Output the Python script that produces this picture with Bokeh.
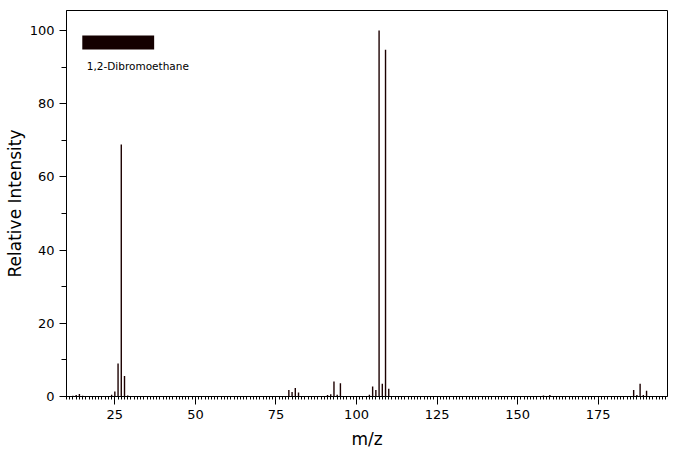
from bokeh.plotting import figure
from bokeh.models import Range1d, FixedTicker, LinearAxis, BoxAnnotation, Label
from bokeh.embed import file_html
from bokeh.resources import INLINE

# ---- data ----
mz = [12, 13, 14, 15, 24, 25, 26, 27, 28, 29,
      79, 80, 81, 82, 91, 92, 93, 94, 95,
      104, 105, 106, 107, 108, 109, 110,
      158, 160, 186, 187, 188, 189, 190]
intensity = [0.2, 0.4, 0.7, 0.2, 0.5, 1.4, 9.0, 68.9, 5.6, 0.3,
             1.8, 1.2, 2.3, 1.1, 0.4, 0.6, 4.1, 0.5, 3.6,
             0.5, 2.7, 1.8, 100.0, 3.5, 94.8, 2.1,
             0.3, 0.4, 1.8, 0.4, 3.5, 0.4, 1.6]
x_major = [25, 50, 75, 100, 125, 150, 175]
y_major = [0, 20, 40, 60, 80, 100]
y_minor = [10, 30, 50, 70, 90]
compound = "1,2-Dibromoethane"

X0, X1 = 10, 196.5
Y0, Y1 = 0, 105.5
INK = "#1c0000"
FONT = "DejaVu Sans"

p = figure(width=672, height=451, output_backend="svg", toolbar_location=None,
           x_range=Range1d(X0, X1), y_range=Range1d(Y0, Y1),
           min_border_left=66, min_border_right=5, min_border_top=10, min_border_bottom=55)
p.background_fill_color = "white"
p.border_fill_color = "white"
p.outline_line_color = "black"
p.outline_line_width = 1
p.xgrid.visible = False
p.ygrid.visible = False

p.segment(x0=mz, y0=[0] * len(mz), x1=mz, y1=intensity, line_color=INK, line_width=1.4)

# x axis: long ticks at 25s with labels, short minor ticks every unit
xa = p.xaxis[0]
xa.ticker = FixedTicker(ticks=x_major, minor_ticks=list(range(10, 197)))
xa.major_tick_out = 8
xa.major_tick_in = 0
xa.minor_tick_out = 3
xa.minor_tick_in = 0
xa.axis_line_color = "black"
xa.major_tick_line_color = "black"
xa.minor_tick_line_color = "black"
xa.major_label_text_font = FONT
xa.major_label_text_font_size = "13px"
xa.major_label_text_color = "black"
xa.major_label_standoff = 5
xa.axis_label = "m/z"
xa.axis_label_text_font = FONT
xa.axis_label_text_font_style = "normal"
xa.axis_label_text_font_size = "17px"
xa.axis_label_text_color = "black"
xa.axis_label_standoff = 7

# medium ticks every 5
xa2 = LinearAxis(fixed_location=0, ticker=FixedTicker(ticks=list(range(10, 197, 5))),
                 major_tick_out=5, major_tick_in=0, minor_tick_out=0, minor_tick_in=0,
                 axis_line_color=None, major_label_text_alpha=0,
                 major_label_text_font_size="1px", major_tick_line_color="black")
p.add_layout(xa2, "below")

ya = p.yaxis[0]
ya.ticker = FixedTicker(ticks=y_major, minor_ticks=y_minor)
ya.major_tick_out = 7
ya.major_tick_in = 0
ya.minor_tick_out = 5
ya.minor_tick_in = 0
ya.axis_line_color = "black"
ya.major_tick_line_color = "black"
ya.minor_tick_line_color = "black"
ya.major_label_text_font = FONT
ya.major_label_text_font_size = "13px"
ya.major_label_text_color = "black"
ya.major_label_standoff = 5
ya.axis_label = "Relative Intensity"
ya.axis_label_text_font = FONT
ya.axis_label_text_font_style = "normal"
ya.axis_label_text_font_size = "17px"
ya.axis_label_text_color = "black"
ya.axis_label_standoff = 2

# legend swatch and name
p.add_layout(BoxAnnotation(left=14.9, right=37.2, top=98.66, bottom=94.83,
                           fill_color="#140000", fill_alpha=1, line_color=None))
p.add_layout(Label(x=16.3, y=90.4, text=compound, text_font=FONT,
                   text_font_size="10.5px", text_color="black",
                   text_baseline="middle", text_align="left"))

open("out.html", "w").write(file_html(p, INLINE))
